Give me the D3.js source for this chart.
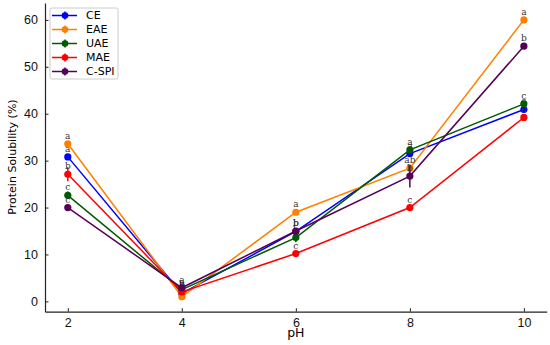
<!DOCTYPE html>
<html>
<head>
<meta charset="utf-8">
<script src="https://cdn.jsdelivr.net/npm/d3@7"></script>
<style>
  body { margin: 0; background: #fff; }
  svg { display: block; font-family: "DejaVu Sans", sans-serif; }
  .tick text { font-size: 12.5px; fill: #111; }
  .lbl { font-family: "DejaVu Serif", serif; font-size: 9px; fill: #333; }
</style>
</head>
<body>
<script>
var width = 550;
var height = 345;

// pH points on the x axis
var phValues = [2, 4, 6, 8, 10];
var seriesNames = ["CE", "EAE", "UAE", "MAE", "C-SPI"];
var seriesColors = ["#0000ff", "#ff8000", "#005a00", "#ff0000", "#560056"];

// protein solubility (%)
var ceValues   = [30.8, 1.7, 14.9, 31.5, 40.9];
var eaeValues  = [33.6, 1.0, 19.0, 28.4, 60.0];
var uaeValues  = [22.6, 2.5, 13.6, 32.3, 42.1];
var maeValues  = [27.1, 2.0, 10.2, 20.0, 39.2];
var cspiValues = [20.0, 2.9, 15.0, 26.7, 54.4];

// error bar half-lengths
var ceErr   = [0.6, 0.3, 0.4, 0.6, 0.5];
var eaeErr  = [0.4, 0.3, 0.4, 0.5, 0.4];
var uaeErr  = [0.8, 0.3, 1.0, 0.5, 0.6];
var maeErr  = [1.5, 0.4, 0.3, 0.3, 0.3];
var cspiErr = [0.4, 0.3, 0.5, 2.4, 0.4];

// significance letters
var ceLetters   = ["a", "b", "b", "a", "c"];
var eaeLetters  = ["a", "c", "a", "ab", "a"];
var uaeLetters  = ["c", "a", "b", "a", "c"];
var maeLetters  = ["b", "b", "c", "c", "d"];
var cspiLetters = ["c", "a", "b", "b", "b"];

var yTicks = [0, 10, 20, 30, 40, 50, 60];

var allValues = [ceValues, eaeValues, uaeValues, maeValues, cspiValues];
var allErr = [ceErr, eaeErr, uaeErr, maeErr, cspiErr];
var allLetters = [ceLetters, eaeLetters, uaeLetters, maeLetters, cspiLetters];

var series = seriesNames.map(function(name, i) {
  return {
    name: name,
    color: seriesColors[i],
    points: phValues.map(function(ph, j) {
      return { ph: ph, v: allValues[i][j], e: allErr[i][j], letter: allLetters[i][j] };
    })
  };
});

var margin = { top: 3, right: 3.3, bottom: 33.3, left: 45 };

var svg = d3.select("body").append("svg")
  .attr("width", width)
  .attr("height", height);

var x = d3.scaleLinear().domain([1.6, 10.4]).range([margin.left, width - margin.right]);
var y = d3.scaleLinear().domain([-2.2, 63.6]).range([height - margin.bottom, margin.top]);

// axes with inward ticks
var xAxis = svg.append("g")
  .attr("transform", `translate(0, ${height - margin.bottom})`)
  .call(d3.axisBottom(x).tickValues(phValues).tickSizeInner(-3.5).tickSizeOuter(0).tickPadding(6));

var yAxis = svg.append("g")
  .attr("transform", `translate(${margin.left}, 0)`)
  .call(d3.axisLeft(y).tickValues(yTicks).tickSizeInner(-3.5).tickSizeOuter(0).tickPadding(7));

[xAxis, yAxis].forEach(function(a) {
  a.select(".domain").attr("stroke", "#222").attr("stroke-width", 1.2);
  a.selectAll(".tick line").attr("stroke", "#222");
});

var line = d3.line()
  .x(function(d) { return x(d.ph); })
  .y(function(d) { return y(d.v); });

series.forEach(function(s) {
  var g = svg.append("g");
  g.append("path")
    .datum(s.points)
    .attr("d", line)
    .attr("fill", "none")
    .attr("stroke", s.color)
    .attr("stroke-width", 1.5);

  g.selectAll(".err")
    .data(s.points)
    .enter().append("line")
    .attr("x1", function(d) { return x(d.ph); })
    .attr("x2", function(d) { return x(d.ph); })
    .attr("y1", function(d) { return y(d.v - d.e); })
    .attr("y2", function(d) { return y(d.v + d.e); })
    .attr("stroke", s.color)
    .attr("stroke-width", 1.5);

  g.selectAll("circle")
    .data(s.points)
    .enter().append("circle")
    .attr("cx", function(d) { return x(d.ph); })
    .attr("cy", function(d) { return y(d.v); })
    .attr("r", 3.6)
    .attr("fill", s.color);

  g.selectAll(".lbl")
    .data(s.points)
    .enter().append("text")
    .attr("class", "lbl")
    .attr("x", function(d) { return x(d.ph); })
    .attr("y", function(d) { return y(d.v) - 5; })
    .attr("text-anchor", "middle")
    .text(function(d) { return d.letter; });
});

// axis titles
svg.append("text")
  .attr("x", (margin.left + width - margin.right) / 2)
  .attr("y", 337)
  .attr("text-anchor", "middle")
  .style("font-size", "12.5px")
  .text("pH");

svg.append("text")
  .attr("transform", "rotate(-90)")
  .attr("x", -157)
  .attr("y", 16)
  .attr("text-anchor", "middle")
  .style("font-size", "11px")
  .text("Protein Solubility (%)");

// legend
var legend = svg.append("g").attr("transform", "translate(50, 8)");
legend.append("rect")
  .attr("width", 68)
  .attr("height", 71)
  .attr("rx", 2)
  .attr("fill", "#fff")
  .attr("fill-opacity", 0.9)
  .attr("stroke", "#ccc");

series.forEach(function(s, i) {
  var ly = 7.5 + i * 14;
  legend.append("line")
    .attr("x1", 2).attr("x2", 27)
    .attr("y1", ly).attr("y2", ly)
    .attr("stroke", s.color).attr("stroke-width", 1.5);
  legend.append("line")
    .attr("x1", 15).attr("x2", 15)
    .attr("y1", ly - 4).attr("y2", ly + 4)
    .attr("stroke", s.color).attr("stroke-width", 1.5);
  legend.append("circle")
    .attr("cx", 15).attr("cy", ly).attr("r", 3.3)
    .attr("fill", s.color);
  legend.append("text")
    .attr("x", 36).attr("y", ly + 3.8)
    .style("font-size", "11px")
    .text(s.name);
});
</script>
</body>
</html>
